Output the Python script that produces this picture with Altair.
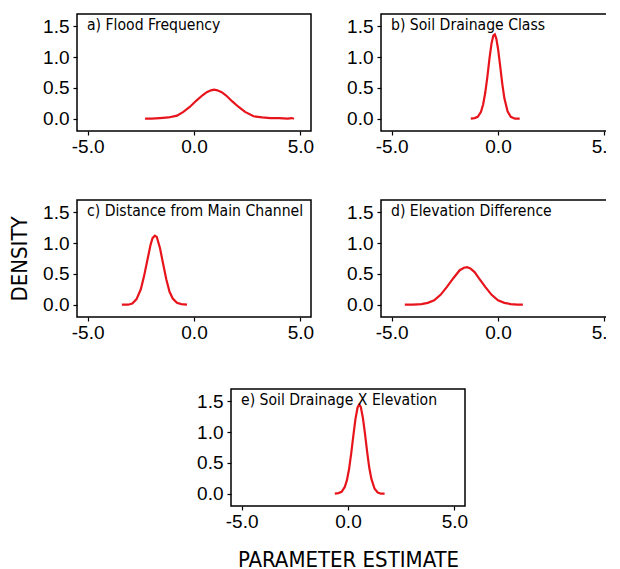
import altair as alt
import pandas as pd

# ---- data (posterior densities) ----
a_x = [-2.3, -2.0, -1.6, -1.2, -0.8, -0.5, -0.2, 0.1, 0.4, 0.6, 0.8, 0.95, 1.1, 1.3, 1.5, 1.8, 2.1, 2.4, 2.8, 3.2, 3.6, 4.0, 4.4, 4.6, 4.7]
a_y = [0.00, 0.00, 0.01, 0.02, 0.05, 0.11, 0.19, 0.29, 0.38, 0.43, 0.46, 0.47, 0.46, 0.43, 0.38, 0.28, 0.19, 0.11, 0.04, 0.02, 0.01, 0.01, 0.00, 0.01, 0.00]

b_x = [-1.28, -1.1, -0.95, -0.8, -0.7, -0.6, -0.5, -0.4, -0.3, -0.22, -0.15, -0.08, 0.0, 0.1, 0.2, 0.3, 0.45, 0.6, 0.8, 1.02]
b_y = [0.00, 0.01, 0.03, 0.11, 0.23, 0.42, 0.68, 0.98, 1.23, 1.35, 1.37, 1.30, 1.14, 0.86, 0.57, 0.33, 0.12, 0.03, 0.00, 0.00]

c_x = [-3.39, -3.1, -2.9, -2.7, -2.5, -2.35, -2.2, -2.05, -1.95, -1.84, -1.75, -1.6, -1.45, -1.3, -1.15, -1.0, -0.8, -0.6, -0.33]
c_y = [0.00, 0.00, 0.02, 0.09, 0.25, 0.46, 0.71, 0.96, 1.08, 1.12, 1.10, 0.92, 0.66, 0.41, 0.21, 0.10, 0.03, 0.01, 0.00]

d_x = [-4.38, -4.0, -3.6, -3.3, -3.0, -2.7, -2.4, -2.1, -1.8, -1.6, -1.45, -1.3, -1.1, -0.9, -0.6, -0.3, 0.0, 0.3, 0.6, 0.9, 1.17]
d_y = [0.00, 0.00, 0.01, 0.03, 0.07, 0.16, 0.29, 0.43, 0.56, 0.60, 0.61, 0.59, 0.53, 0.43, 0.29, 0.16, 0.07, 0.03, 0.01, 0.00, 0.00]

e_x = [-0.62, -0.45, -0.3, -0.15, -0.05, 0.05, 0.15, 0.25, 0.35, 0.45, 0.53, 0.6, 0.7, 0.8, 0.9, 1.0, 1.1, 1.25, 1.4, 1.55, 1.72]
e_y = [0.00, 0.01, 0.03, 0.11, 0.22, 0.40, 0.65, 0.94, 1.21, 1.40, 1.45, 1.41, 1.23, 0.97, 0.68, 0.42, 0.24, 0.08, 0.02, 0.00, 0.00]

panel_labels = ["a) Flood Frequency", "b) Soil Drainage Class",
                "c) Distance from Main Channel", "d) Elevation Difference",
                "e) Soil Drainage X Elevation"]
x_ticks = [-5.0, 0.0, 5.0]
y_ticks = [0.0, 0.5, 1.0, 1.5]
y_title = "DENSITY"
x_title = "PARAMETER ESTIMATE"

# ---- styling ----
W, H = 234, 117
RED = "#e8141c"
TICK_FONT = "Liberation Sans, Arial, sans-serif"
COND_FONT = "Liberation Sans Narrow, Arial Narrow, DejaVu Sans Condensed, sans-serif"
LABEL_EXPR = "datum.value < 0 ? '-' + format(-datum.value, '.1f') : format(datum.value, '.1f')"


def panel(xs, ys, label, ytitle=None, xtitle=None):
    df = pd.DataFrame({"x": xs, "y": ys})
    xaxis = alt.Axis(values=x_ticks, labelExpr=LABEL_EXPR, title=xtitle, titlePadding=18,
                     titleFontSize=22, labelPadding=2)
    yaxis = alt.Axis(values=y_ticks, format=".1f", title=ytitle, titlePadding=11,
                     titleFontSize=22, labelPadding=4)
    line = alt.Chart(df).mark_line(color=RED, strokeWidth=2.2).encode(
        x=alt.X("x:Q", scale=alt.Scale(domain=[-5.5, 5.5], nice=False, zero=False), axis=xaxis),
        y=alt.Y("y:Q", scale=alt.Scale(domain=[-0.2, 1.7], nice=False, zero=False), axis=yaxis),
        order=alt.Order("x:Q"),
    )
    txt = alt.Chart(pd.DataFrame({"t": [label]})).mark_text(
        align="left", baseline="alphabetic", font=COND_FONT, fontSize=15.6, color="black"
    ).encode(x=alt.value(10), y=alt.value(16), text="t:N")
    return alt.layer(line, txt).properties(width=W, height=H)


pa = panel(a_x, a_y, panel_labels[0])
pb = panel(b_x, b_y, panel_labels[1])
pc = panel(c_x, c_y, panel_labels[2], ytitle=y_title)
pd_ = panel(d_x, d_y, panel_labels[3])
pe = panel(e_x, e_y, panel_labels[4], xtitle=x_title)

spacer = alt.Chart(pd.DataFrame({"v": [0]})).mark_point(opacity=0).encode(
    x=alt.value(0), y=alt.value(0)
).properties(width=117, height=H, view=alt.ViewBackground(stroke="transparent"))

grid = alt.concat(pa, pb, pc, pd_, columns=2, spacing=alt.RowColnumber(row=42, column=30))
bottom = alt.hconcat(spacer, pe, spacing=0)

chart = alt.vconcat(grid, bottom, spacing=42).properties(
    padding={"left": -1, "top": 5, "right": -13, "bottom": -4}
).configure_view(stroke="black", strokeWidth=1.5).configure_axis(
    domain=False, grid=False, tickSize=4, tickColor="black", tickWidth=1.2,
    labelFont=TICK_FONT, labelFontSize=19, labelColor="black", labelFlush=False,
    titleFont=COND_FONT, titleColor="black", titleFontWeight="normal",
)

chart.save("out.html", embed_options={"renderer": "svg", "actions": False})
